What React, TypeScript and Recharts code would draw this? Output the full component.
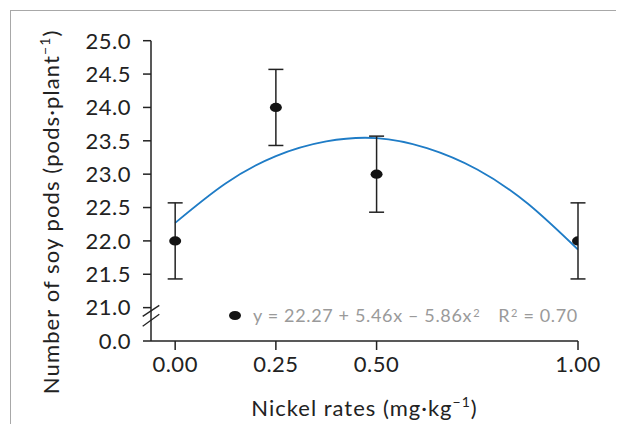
import { ComposedChart, Scatter, Line, XAxis, YAxis, ErrorBar, Legend, Label, ReferenceDot } from "recharts"

const nickelRates = [0, 0.25, 0.5, 1.0]
const podMeans = [22.0, 24.0, 23.0, 22.0]
const podErrors = [0.57, 0.57, 0.57, 0.57]

// Points
const fitRates = [0, 0.125, 0.25, 0.375, 0.5, 0.625, 0.75, 0.875, 1.0]
const fitPods = [22.27, 22.86, 23.27, 23.49, 23.54, 23.39, 23.07, 22.56, 21.87]

const xTicks = [0, 0.25, 0.5, 1.0]
const yTicks = [20.5, 21, 21.5, 22, 22.5, 23, 23.5, 24, 24.5, 25]
// the axis is broken: the lowest tick stands for 0.0
const yBreakBase = 20.5
const yBreakAt = 20.88

const FONT = "Lato, 'Noto Sans', sans-serif"
const INK = "#222222"
const WEIGHT = 400

const points = nickelRates.map((x, i) => ({ x, y: podMeans[i], err: podErrors[i] }))
const fitLine = fitRates.map((x, i) => ({ x, y: fitPods[i] }))

const Dot = (props: any) => <ellipse cx={props.cx} cy={props.cy} rx={6} ry={4.6} fill="#141414" />

const BreakMark = (props: any) => {
  const { cx, cy } = props
  return (
    <g stroke={INK} strokeWidth={1.3}>
      <line x1={cx - 8.3} y1={cy + 0.7} x2={cx + 8.3} y2={cy - 10.3} />
      <line x1={cx - 8.3} y1={cy + 10.7} x2={cx + 8.3} y2={cy - 1.3} />
    </g>
  )
}

const XTitle = (props: any) => {
  const vb = props.viewBox
  return (
    <text
      x={vb.x + vb.width / 2}
      y={vb.y + 75}
      textAnchor="middle"
      fontFamily={FONT}
      fontWeight={WEIGHT}
      fontSize={22}
      letterSpacing={1.0}
      fill={INK}
    >
      Nickel rates (mg·kg
      <tspan fontSize={14} dy={-9}>−1</tspan>
      <tspan dy={9}>)</tspan>
    </text>
  )
}

const YTitle = (props: any) => {
  const vb = props.viewBox
  const x = vb.x - 32
  const y = vb.y + vb.height / 2 + 21
  return (
    <text
      x={x}
      y={y}
      transform={`rotate(-90 ${x} ${y})`}
      textAnchor="middle"
      fontFamily={FONT}
      fontWeight={WEIGHT}
      fontSize={22}
      letterSpacing={1.1}
      fill={INK}
    >
      Number of soy pods (pods·plant
      <tspan fontSize={14} dy={-9}>−1</tspan>
      <tspan dy={9}>)</tspan>
    </text>
  )
}

const sup = { fontSize: 11, verticalAlign: "top", position: "relative" as const, top: -2, marginLeft: 1 }

const FitLegend = () => (
  <div
    style={{
      display: "flex",
      alignItems: "center",
      fontFamily: FONT,
      fontWeight: WEIGHT,
      fontSize: 18,
      letterSpacing: 0.65,
      color: "#9a9a9a",
      whiteSpace: "nowrap",
      lineHeight: "20px",
    }}
  >
    <span style={{ display: "inline-block", width: 12, height: 9, borderRadius: "50%", background: "#141414", marginRight: 12 }} />
    <span>
      y = 22.27 + 5.46x – 5.86x<span style={sup}>2</span>
      <span style={{ marginLeft: 18 }}>
        R<span style={sup}>2</span> = 0.70
      </span>
    </span>
  </div>
)

export default function App() {
  return (
    <div style={{ position: "relative", width: 616, height: 416, overflow: "hidden" }}>
      <div
        style={{
          position: "absolute",
          left: 2,
          top: 2,
          width: 640,
          height: 440,
          borderTop: "1.5px solid #a8a8a8",
          borderLeft: "1.5px solid #a8a8a8",
        }}
      />
      <ComposedChart width={616} height={416} margin={{ top: 32.7, right: 46, bottom: 53, left: 83 }}>
        <XAxis
          type="number"
          dataKey="x"
          domain={[-0.06, 1]}
          ticks={xTicks}
          allowDataOverflow
          tickFormatter={(v: number) => v.toFixed(2)}
          tickSize={9}
          tickMargin={6}
          height={30}
          axisLine={{ stroke: INK, strokeWidth: 1.5 }}
          tickLine={{ stroke: INK, strokeWidth: 1.5 }}
          tick={{ fill: INK, fontSize: 22, fontFamily: FONT, fontWeight: WEIGHT, letterSpacing: 0.5 }}
        >
          <Label content={XTitle} />
        </XAxis>
        <YAxis
          type="number"
          dataKey="y"
          domain={[yBreakBase, 25]}
          ticks={yTicks}
          allowDataOverflow
          interval={0}
          tickFormatter={(v: number) => (v === yBreakBase ? "0.0" : v.toFixed(1))}
          tickSize={8}
          tickMargin={12}
          width={60}
          axisLine={{ stroke: INK, strokeWidth: 1.5 }}
          tickLine={{ stroke: INK, strokeWidth: 1.5 }}
          tick={{ fill: INK, fontSize: 22, fontFamily: FONT, fontWeight: WEIGHT, letterSpacing: 0.5 }}
        >
          <Label content={YTitle} />
        </YAxis>
        <Legend
          layout="vertical"
          align="center"
          verticalAlign="middle"
          content={FitLegend}
          wrapperStyle={{ left: 221, top: 297, width: "auto", height: 20 }}
        />
        <Line
          data={fitLine}
          dataKey="y"
          type="natural"
          stroke="#1f7cc6"
          strokeWidth={1.8}
          dot={false}
          activeDot={false}
          legendType="none"
          isAnimationActive={false}
        />
        <Scatter data={points} dataKey="y" shape={Dot} isAnimationActive={false}>
          <ErrorBar dataKey="err" direction="y" width={7.5} stroke={INK} strokeWidth={1.5} isAnimationActive={false} />
        </Scatter>
        <ReferenceDot x={-0.06} y={yBreakAt} ifOverflow="visible" shape={BreakMark} />
      </ComposedChart>
    </div>
  )
}
